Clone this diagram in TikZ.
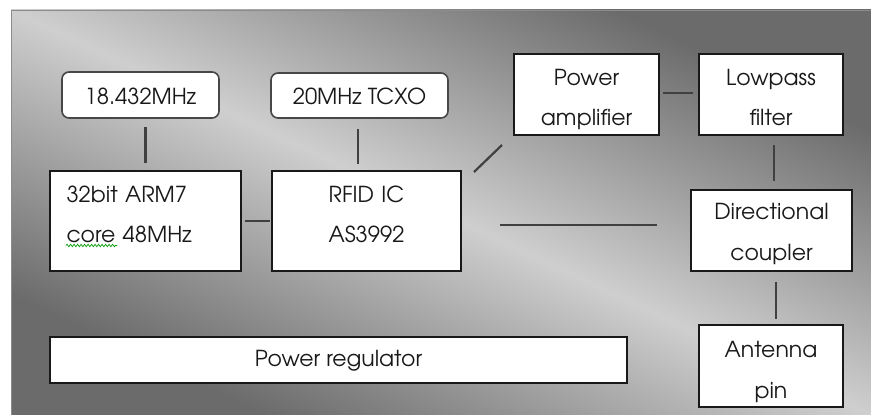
\documentclass[tikz,border=0pt]{standalone}
\usepackage{fontspec}
\setmainfont{TeX Gyre Adventor}
\usetikzlibrary{calc,decorations.pathmorphing}
\begin{document}
\begin{tikzpicture}[x=1pt,y=-1pt,
  box/.style={draw=black!90, line width=1.4pt, fill=white, inner sep=0pt, outer sep=0pt,
    align=center, font=\fontsize{22}{40.5}\selectfont, text=black!90},
  rbox/.style={box, rounded corners=7pt, draw=black!72, line width=1.6pt},
  conn/.style={draw=black!75, line width=2.2pt},
  wavy/.style={draw=green!60!black, line width=0.7pt, decorate,
    decoration={snake, amplitude=1.2pt, segment length=3.5pt}}]
\useasboundingbox (0,0) rectangle (871,415);
% background panel with diagonal gradient
\begin{scope}[transform canvas={xscale=8.6, yscale=4.05}]
  \shade[top color=black!58, bottom color=black!58, middle color=black!19, shading angle=-45]
    (1.2791,2.4691) rectangle (101.2791,102.4691);
\end{scope}
\draw[black!45, line width=1pt] (11,415) -- (11,10) -- (871,10);
% boxes
\node[rbox, minimum width=157pt, minimum height=46pt, text height=19pt, text depth=0pt]
  (x1) at (140.5,95) {18.432MHz};
\node[rbox, minimum width=177pt, minimum height=45pt, text height=18pt, text depth=0pt]
  (x2) at (359.5,95.5) {20MHz TCXO};
\node[box, text width=158pt, inner xsep=16.5pt, minimum height=100pt, align=left,
  text height=0pt, text depth=38pt] (arm) at (145.5,221) {32bit ARM7\\core 48MHz};
\node[box, text width=189pt, minimum height=100pt, text height=0pt, text depth=38pt]
  (rfid) at (366.5,221) {RFID IC\\AS3992};
\node[box, text width=145pt, minimum height=81pt, text height=0pt, text depth=19pt]
  (pa) at (586.5,94.5) {Power\\amplifier};
\node[box, text width=144pt, minimum height=81pt, text height=0pt, text depth=19pt]
  (lp) at (771,94.5) {Lowpass\\filter};
\node[box, text width=161pt, minimum height=81pt, text height=0pt, text depth=22pt]
  (dc) at (771.5,230.5) {Directional\\coupler};
\node[box, text width=144pt, minimum height=82pt, text height=0pt, text depth=17pt]
  (ant) at (771,366) {Antenna\\pin};
\node[box, minimum width=577pt, minimum height=46pt, text height=13pt, text depth=0pt]
  (preg) at (338.5,360) {Power regulator};
% spell-check underline
\draw[wavy] ($(arm.west)+(16,24.5)$) -- ($(arm.west)+(67,24.5)$);
% connectors
\draw[conn] ($(arm.north)+(0,-8)$) -- ($(arm.north |- x1.south)+(0,9)$);
\draw[conn] ($(x2.south)+(-1.5,11)$) -- ($(rfid.north -| x2.south)+(-1.5,-7)$);
\draw[conn] ($(arm.east)+(4,0)$) -- ($(rfid.west)+(-2,0)$);
\draw[conn] ($(pa.east)+(4,-1.5)$) -- ($(lp.west)+(-6,-1.5)$);
\draw[conn] ($(rfid.north east)+(13,1)$) -- ($(pa.south west)+(-12,10)$);
\draw[conn] ($(lp.south)+(3,10)$) -- ($(dc.north)+(2.5,-9)$);
\draw[conn] ($(rfid.east)+(39,4)$) -- ($(dc.west)+(-34,-5.5)$);
\draw[conn] ($(dc.south)+(4.5,11)$) -- ($(ant.north)+(5,-6)$);
\end{tikzpicture}
\end{document}
